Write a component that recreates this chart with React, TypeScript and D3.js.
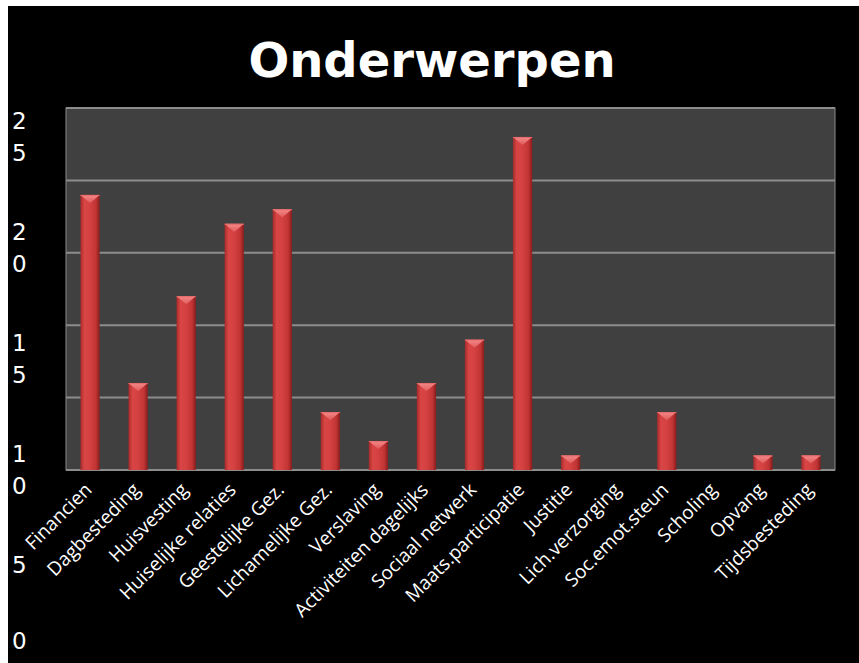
import React from "react";
import * as d3 from "d3";

const categories = [
  "Financien",
  "Dagbesteding",
  "Huisvesting",
  "Huiselijke relaties",
  "Geestelijke Gez.",
  "Lichamelijke Gez.",
  "Verslaving",
  "Activiteiten dagelijks",
  "Sociaal netwerk",
  "Maats.participatie",
  "Justitie",
  "Lich.verzorging",
  "Soc.emot.steun",
  "Scholing",
  "Opvang",
  "Tijdsbesteding",
];
const values = [19, 6, 12, 17, 18, 4, 2, 6, 9, 23, 1, 0, 4, 0, 1, 1];
const tickValues = [25, 20, 15, 10, 5, 0];
const title = "Onderwerpen";

const W = 859;
const H = 663;
const plot = { left: 66, right: 835, top: 108, bottom: 470 };

export default function App() {
  const x = d3
    .scaleBand<string>()
    .domain(categories)
    .range([plot.left, plot.right])
    .paddingInner(0.6)
    .paddingOuter(0.3);
  const y = d3.scaleLinear().domain([0, 25]).range([plot.bottom, plot.top]);
  // the tick labels of the original are wrapped one digit per line and drift downward
  const labelY = d3.scaleLinear().domain([25, 5]).range([121, 565]);
  const bw = x.bandwidth();
  const gridVals = [5, 10, 15, 20, 25];

  return (
    <svg
      width={W}
      height={H}
      style={{ position: "absolute", left: 0, top: 0 }}
    >
      <defs>
        <linearGradient id="barGrad" x1="0" x2="1" y1="0" y2="0">
          <stop offset="0" stopColor="#a62a2a" />
          <stop offset="0.2" stopColor="#d84545" />
          <stop offset="0.45" stopColor="#d64242" />
          <stop offset="0.8" stopColor="#c23535" />
          <stop offset="1" stopColor="#8a1c1c" />
        </linearGradient>
        <linearGradient id="capGrad" x1="0" x2="0" y1="0" y2="1">
          <stop offset="0" stopColor="#f48a8a" />
          <stop offset="1" stopColor="#e05a5a" />
        </linearGradient>
      </defs>
      <rect x={8} y={6} width={W - 8} height={H - 6} fill="#000" />
      <text
        x={432}
        y={77}
        textAnchor="middle"
        fill="#fff"
        fontFamily="DejaVu Sans, Verdana, sans-serif"
        fontWeight="bold"
        fontSize={48}
      >
        {title}
      </text>
      <rect
        x={plot.left}
        y={plot.top}
        width={plot.right - plot.left}
        height={plot.bottom - plot.top}
        fill="#404040"
        stroke="#8a8a8a"
        strokeWidth={1}
      />
      {gridVals.map((v) => (
        <line
          key={v}
          x1={plot.left}
          x2={plot.right}
          y1={y(v)}
          y2={y(v)}
          stroke="#8c8c8c"
          strokeWidth={2}
        />
      ))}
      <line
        x1={plot.left}
        x2={plot.right}
        y1={y(0)}
        y2={y(0)}
        stroke="#8c8c8c"
        strokeWidth={2}
      />
      {values.map((v, i) => {
        if (v <= 0) return null;
        const cx = x(categories[i])!;
        const top = y(v);
        const capH = Math.min(bw * 0.42, (y(0) - top) * 0.6);
        return (
          <g key={categories[i]}>
            <rect
              x={cx}
              y={top}
              width={bw}
              height={y(0) - top}
              fill="url(#barGrad)"
            />
            <polygon
              points={`${cx},${top} ${cx + bw},${top} ${cx + bw / 2},${top + capH}`}
              fill="url(#capGrad)"
            />
            <line
              x1={cx}
              x2={cx + bw}
              y1={top + 0.5}
              y2={top + 0.5}
              stroke="#e86a6a"
              strokeWidth={1}
            />
          </g>
        );
      })}
      {tickValues.map((v) => {
        const chars = String(v).split("");
        const y0 = Math.min(labelY(v), 641);
        return (
          <text
            key={v}
            fill="#fff"
            fontFamily="DejaVu Sans, Verdana, sans-serif"
            fontSize={23}
          >
            {chars.map((c, j) => (
              <tspan key={j} x={12} y={y0 + j * 32} dominantBaseline="central">
                {c}
              </tspan>
            ))}
          </text>
        );
      })}
      {categories.map((c) => {
        const cx = x(c)! + bw / 2;
        return (
          <text
            key={c}
            transform={`translate(${cx + 3},${491}) rotate(-45)`}
            textAnchor="end"
            fill="#fff"
            fontFamily="Open Sans, sans-serif"
            fontSize={19}
          >
            {c}
          </text>
        );
      })}
    </svg>
  );
}
